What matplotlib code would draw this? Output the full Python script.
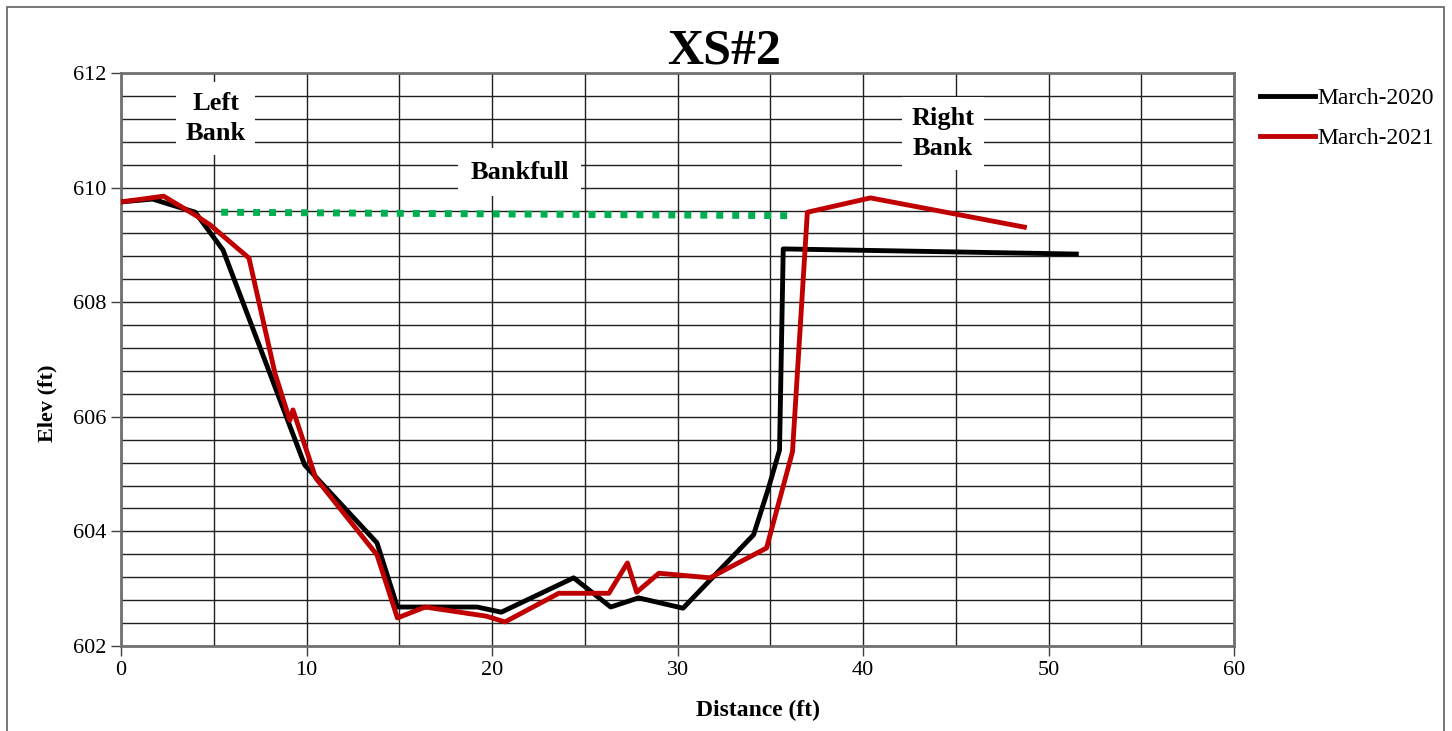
import matplotlib
matplotlib.use('Agg')
import matplotlib.pyplot as plt
from matplotlib.ticker import MultipleLocator
from matplotlib.patches import Rectangle

# Czcionka podobna do Times New Roman
plt.rcParams['font.family'] = ['Liberation Serif', 'DejaVu Serif']

# Dane - przekroj XS#2, pomiar z marca 2020
odl_2020 = [0, 1.7, 4.0, 5.5, 9.9, 10.5, 13.8, 14.9, 19.2, 20.5, 24.4, 26.4,
            27.9, 30.3, 34.1, 34.9, 35.5, 35.7, 51.5]
wys_2020 = [609.75, 609.8, 609.57, 608.91, 605.16, 604.95, 603.8, 602.68,
            602.68, 602.59, 603.19, 602.68, 602.84, 602.66, 603.94, 604.75,
            605.42, 608.93, 608.84]

# Pomiar z marca 2021
odl_2021 = [0, 2.3, 4.0, 4.8, 6.9, 8.3, 9.1, 9.27, 10.5, 13.8, 14.9, 16.4,
            19.7, 20.7, 23.6, 26.3, 27.3, 27.8, 29.0, 31.75, 34.8, 36.2, 37.0,
            40.4, 48.7]
wys_2021 = [609.75, 609.85, 609.52, 609.35, 608.77, 606.76, 605.94, 606.12,
            604.93, 603.59, 602.49, 602.68, 602.52, 602.42, 602.92, 602.92,
            603.45, 602.94, 603.27, 603.19, 603.71, 605.39, 609.57, 609.82,
            609.31]

# Linia Bankfull
bankfull_x = [5.4, 36.0]
bankfull_y = [609.57, 609.51]

fig = plt.figure(figsize=(14.52, 7.31), dpi=100)
ax = fig.add_axes([121/1452, 1 - 646/731, (1234-121)/1452, (646-73)/731])

ax.plot(odl_2020, wys_2020, color='black', lw=3.5, label='March-2020', zorder=4)
ax.plot(odl_2021, wys_2021, color='#C00000', lw=3.5, label='March-2021', zorder=5)
ax.plot(bankfull_x, bankfull_y, color='#00B050', lw=5, dashes=(1.0, 1.3),
        solid_capstyle='butt', dash_capstyle='butt', zorder=4)

# Osie i siatka
ax.set_xlim(0, 60)
ax.set_ylim(602, 612)
ax.xaxis.set_major_locator(MultipleLocator(10))
ax.xaxis.set_minor_locator(MultipleLocator(5))
ax.yaxis.set_major_locator(MultipleLocator(2))
ax.yaxis.set_minor_locator(MultipleLocator(0.4))
ax.grid(which='both', color='#202020', lw=1, zorder=1)
ax.set_axisbelow(True)
ax.tick_params(which='major', direction='out', length=7, width=1,
               labelsize=16, color='#404040')
ax.tick_params(which='minor', length=0)
for s in ax.spines.values():
    s.set_color('#707070')
    s.set_linewidth(2)

# Opisy brzegow
ramka = dict(facecolor='white', edgecolor='none', pad=7)
ax.text(5.1, 611.2, 'Left\nBank', ha='center', va='center', fontsize=19,
        fontweight='bold', linespacing=1.4, bbox=ramka, zorder=3)
ax.text(21.5, 610.27, 'Bankfull', ha='center', va='center', fontsize=19,
        fontweight='bold', bbox=dict(facecolor='white', edgecolor='none', pad=9),
        zorder=3)
ax.text(44.3, 610.95, 'Right\nBank', ha='center', va='center', fontsize=19,
        fontweight='bold', linespacing=1.4, bbox=ramka, zorder=3)

# Tytul i podpisy osi
fig.text(724/1452, 1 - 51/731, 'XS#2', ha='center', va='center', fontsize=36,
         fontweight='bold')
fig.text(47/1452, 1 - 403/731, 'Elev (ft)', ha='center', va='center',
         rotation=90, fontsize=16, fontweight='bold')
fig.text(758/1452, 1 - 710/731, 'Distance (ft)', ha='center', va='center',
         fontsize=17, fontweight='bold')

# Legenda po prawej stronie
fig.legend(loc='upper left', bbox_to_anchor=(1251/1452, 1 - 78/731),
           frameon=False, fontsize=17, handlelength=2.3, handletextpad=0.1,
           labelspacing=0.8, borderaxespad=0)

# Ramka wokol calego wykresu
fig.add_artist(Rectangle((7/1452, -0.05), (1444-7)/1452, 1.05 - 7/731,
                         transform=fig.transFigure, fill=False,
                         edgecolor='#606060', lw=1.2))

fig.savefig('out.png', dpi=100)
